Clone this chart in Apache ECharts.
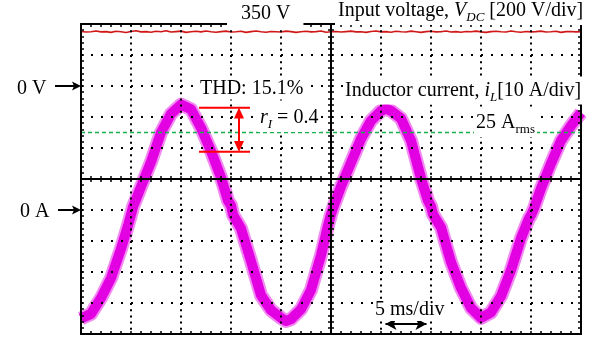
<!DOCTYPE html>
<html><head><meta charset="utf-8">
<script src="https://cdn.jsdelivr.net/npm/echarts@6/dist/echarts.min.js"></script>
<style>html,body{margin:0;padding:0;background:#fff}#c{width:600px;height:338px}</style>
</head><body><div id="c"></div>
<script>
// ---- data (time in ms, current in A, voltage in V) ----
const currentTime = [0, 1, 2, 3, 4, 4.7, 5, 5.2, 6, 7, 8, 9, 10, 11, 12, 13, 14, 14.7, 15, 15.2,
  16, 17, 18, 19, 20, 20.5, 21, 22, 23, 24, 24.7, 25, 25.3, 26, 27, 28, 29, 30, 30.5, 31, 32, 33, 34,
  34.7, 35, 35.2, 36, 37, 38, 39, 40, 41, 42, 43, 44, 44.8, 45, 45.3, 46, 47, 48, 49, 50];
const currentValues = [-35, -33.5, -28.4, -22, -12.5, -5, -1.5, 1, 7.5, 15.5, 25, 31, 34, 32.5, 26.5, 19, 10.5, 3, 1.5, -1.5,
  -6, -16.5, -27.5, -32.3, -34.8, -35.8, -35.2, -32, -25.8, -14.6, -5, -1.4, 1.5, 7.6, 15.3, 23, 28.8, 32, 32.7, 32, 29.5, 22.4, 10.2,
  3, 1.2, -1.4, -5.6, -16.8, -25.2, -31.6, -34.8, -33, -27.8, -19.4, -9.1, -2.7, -1.7, 0.5, 7, 15, 22.4, 27.2, 31.4];
const voltageStep = 0.5;
const voltageValues = [352, 348, 350, 355, 349, 351, 346, 353, 350, 345, 352, 356, 349, 351, 347, 353, 350, 357, 348, 351,
  354, 346, 350, 353, 349, 355, 350, 347, 351, 354, 348, 350, 353, 346, 351, 355, 350, 347, 352, 350,
  348, 354, 351, 346, 350, 353, 349, 351, 355, 347, 350, 352, 348, 351, 354, 349, 350, 346, 352, 355,
  349, 351, 347, 353, 350, 348, 354, 350, 346, 351, 353, 349, 350, 355, 348, 351, 347, 352, 350, 354,
  349, 346, 351, 353, 350, 348, 355, 350, 347, 352, 349, 351, 354, 348, 350, 353, 346, 351, 352, 349, 350];
const rmsLevel = 25;
const rippleLevels = [33, 18.8];
const rippleSpan = [11.8, 16.9];
const rippleArrowTime = 15.8;
const scaleArrowSpan = [30, 35];
const scaleArrowLevel = -36.8;
const timeRange = [0, 50];
const currentRange = [-40, 60];
const voltageRange = [-1600, 400];

const currentData = currentTime.map((t, i) => [t, currentValues[i]]);
const voltageData = voltageValues.map((v, i) => [i * voltageStep, v]);

const F = '"Liberation Serif", "Times New Roman", serif';
const black = '#000';
const tickIn = (inside) => ({show: true, inside: inside, length: 3, lineStyle: {color: black, width: 1.5}});
const minor = {show: true, splitNumber: 5, length: 3, lineStyle: {color: black, width: 1.5}};
const frameLine = {show: true, onZero: false, lineStyle: {color: black, width: 2}};
const zeroLine = (idx) => ({show: true, onZero: true, onZeroAxisIndex: idx, lineStyle: {color: black, width: 2}});

const chart = echarts.init(document.getElementById('c'));
const option = {
  animation: false,
  backgroundColor: '#fff',
  grid: {left: 81, top: 24, width: 500, height: 310, show: false},
  xAxis: [
    {type: 'value', min: timeRange[0], max: timeRange[1], interval: 5, position: 'bottom', axisLine: frameLine,
      axisTick: tickIn(true), minorTick: minor, axisLabel: {show: false}, z: 3,
      splitLine: {show: true, lineStyle: {color: black, width: 2, type: [2, 4.2]}}},
    {type: 'value', min: timeRange[0], max: timeRange[1], interval: 5, position: 'top', axisLine: frameLine,
      axisTick: tickIn(true), minorTick: minor, axisLabel: {show: false}, splitLine: {show: false}, z: 3},
    {type: 'value', min: -25, max: 25, interval: 5, position: 'bottom', axisLine: zeroLine(2),
      axisTick: tickIn(true), minorTick: minor, axisLabel: {show: false}, splitLine: {show: false}, z: 3},
    {type: 'value', min: -25, max: 25, interval: 5, position: 'bottom', axisLine: zeroLine(2),
      axisTick: tickIn(false), minorTick: minor, axisLabel: {show: false}, splitLine: {show: false}, z: 3}
  ],
  yAxis: [
    {type: 'value', min: currentRange[0], max: currentRange[1], interval: 10, position: 'left', axisLine: frameLine,
      axisTick: tickIn(true), minorTick: minor, axisLabel: {show: false}, z: 3,
      splitLine: {show: true, lineStyle: {color: black, width: 2, type: [2, 8]}}},
    {type: 'value', min: voltageRange[0], max: voltageRange[1], interval: 200, position: 'right', axisLine: frameLine,
      axisTick: tickIn(true), minorTick: minor, axisLabel: {show: false}, splitLine: {show: false}, z: 3},
    {type: 'value', min: -5, max: 5, interval: 1, show: false, axisLine: {onZero: false}},
    {type: 'value', min: -5, max: 5, interval: 1, position: 'left', axisLine: zeroLine(2),
      axisTick: tickIn(true), minorTick: minor, axisLabel: {show: false}, splitLine: {show: false}, z: 3},
    {type: 'value', min: -5, max: 5, interval: 1, position: 'left', axisLine: zeroLine(2),
      axisTick: tickIn(false), minorTick: minor, axisLabel: {show: false}, splitLine: {show: false}, z: 3}
  ],
  series: [
    {type: 'line', xAxisIndex: 0, yAxisIndex: 0, data: currentData, showSymbol: false, silent: true,
      lineStyle: {color: '#f28af2', width: 14, join: 'round', cap: 'butt'}, z: 1},
    {type: 'line', xAxisIndex: 0, yAxisIndex: 0, data: currentData, showSymbol: false, silent: true,
      lineStyle: {color: '#e200e2', width: 10, join: 'round', cap: 'butt'}, z: 1},
    {type: 'line', xAxisIndex: 0, yAxisIndex: 1, data: voltageData, showSymbol: false, silent: true,
      lineStyle: {color: '#d01818', width: 1.6}, z: 2},
    {type: 'line', xAxisIndex: 0, yAxisIndex: 0, data: [[timeRange[0], rmsLevel], [timeRange[1], rmsLevel]],
      showSymbol: false, silent: true, lineStyle: {color: '#17b04a', width: 1.6, type: [4, 3]}, z: 2},
    {type: 'line', xAxisIndex: 0, yAxisIndex: 0, data: [[rippleSpan[0], rippleLevels[0]], [rippleSpan[1], rippleLevels[0]]],
      showSymbol: false, silent: true, lineStyle: {color: '#ff0000', width: 2}, z: 4,
      markLine: {silent: true, symbol: ['triangle', 'triangle'], symbolSize: [10, 11], label: {show: false},
        lineStyle: {color: '#ff0000', width: 2, type: 'solid'},
        data: [[{coord: [rippleArrowTime, rippleLevels[0] - 1.7]}, {coord: [rippleArrowTime, rippleLevels[1] + 1.7]}]]}},
    {type: 'line', xAxisIndex: 0, yAxisIndex: 0, data: [[rippleSpan[0], rippleLevels[1]], [rippleSpan[1], rippleLevels[1]]],
      showSymbol: false, silent: true, lineStyle: {color: '#ff0000', width: 2}, z: 4,
      markLine: {silent: true, symbol: ['arrow', 'arrow'], symbolSize: [9, 11], label: {show: false},
        lineStyle: {color: black, width: 2, type: 'solid'},
        data: [[{coord: [scaleArrowSpan[0] + 0.45, scaleArrowLevel]}, {coord: [scaleArrowSpan[1] - 0.45, scaleArrowLevel]}]]}}
  ]
};
chart.setOption(option);

const y0V = chart.convertToPixel({yAxisIndex: 1}, 0);
const y0A = chart.convertToPixel({yAxisIndex: 0}, 0);
const xL = chart.convertToPixel({xAxisIndex: 0}, timeRange[0]);
const xR = chart.convertToPixel({xAxisIndex: 0}, timeRange[1]);
const yT = chart.convertToPixel({yAxisIndex: 0}, currentRange[1]);
const yB = chart.convertToPixel({yAxisIndex: 0}, currentRange[0]);

const rich = {
  it: {fontSize: 20, fontFamily: F, fontStyle: 'italic', fill: black},
  sub: {fontSize: 13, fontFamily: F, fill: black, padding: [14, 0, 0, 0]},
  subit: {fontSize: 13, fontFamily: F, fontStyle: 'italic', fill: black, padding: [14, 0, 0, 0]}
};
function label(text, x, y, pad, bg) {
  return {type: 'text', z: 100, silent: true,
    style: {text: text, x: x, y: y, fontSize: 20, fontFamily: F, fill: black, align: 'left', verticalAlign: 'middle',
      backgroundColor: bg === false ? 'transparent' : '#fff', padding: pad || [1, 2, 1, 2], rich: rich}};
}
function arrow(x1, y) {
  return [
    {type: 'line', z: 100, silent: true, shape: {x1: x1, y1: y, x2: xL - 6, y2: y}, style: {stroke: black, lineWidth: 2}},
    {type: 'polygon', z: 100, silent: true, shape: {points: [[xL - 9, y - 4.5], [xL, y], [xL - 9, y + 4.5], [xL - 7, y]]}, style: {fill: black}}
  ];
}
// white masks outside the frame so the thick trace stops at the frame edges
const masks = [
  {type: 'rect', z: 1, silent: true, shape: {x: xL - 12, y: yT + 60, width: 11, height: yB - yT - 40}, style: {fill: '#fff'}},
  {type: 'rect', z: 1, silent: true, shape: {x: xR + 1.5, y: yT, width: 18, height: yB - yT}, style: {fill: '#fff'}}
];
chart.setOption({graphic: masks.concat([
  label('350 V', 227, 13.5, [4, 13, 3, 14]),
  label('Input voltage, {it|V}{subit|DC} [200 V/div]', 335, 11, [0, 20, 1, 3]),
  label('THD: 15.1%', 198, 88.5),
  label('{it|r}{subit|I} = 0.4', 258, 117.5),
  label('Inductor current, {it|i}{subit|L}[10 A/div]', 343, 90.5, [1, 2, 0, 2]),
  label('25 A{sub|rms}', 474, 122.5),
  label('5 ms/div', 373, 310, [1, 2, 1, 2]),
  label('0 V', 17, y0V + 2.5, [0, 0, 0, 0], false),
  label('0 A', 20, y0A + 1.5, [0, 0, 0, 0], false)
], arrow(55, y0V), arrow(58, y0A))});
</script>
</body></html>
